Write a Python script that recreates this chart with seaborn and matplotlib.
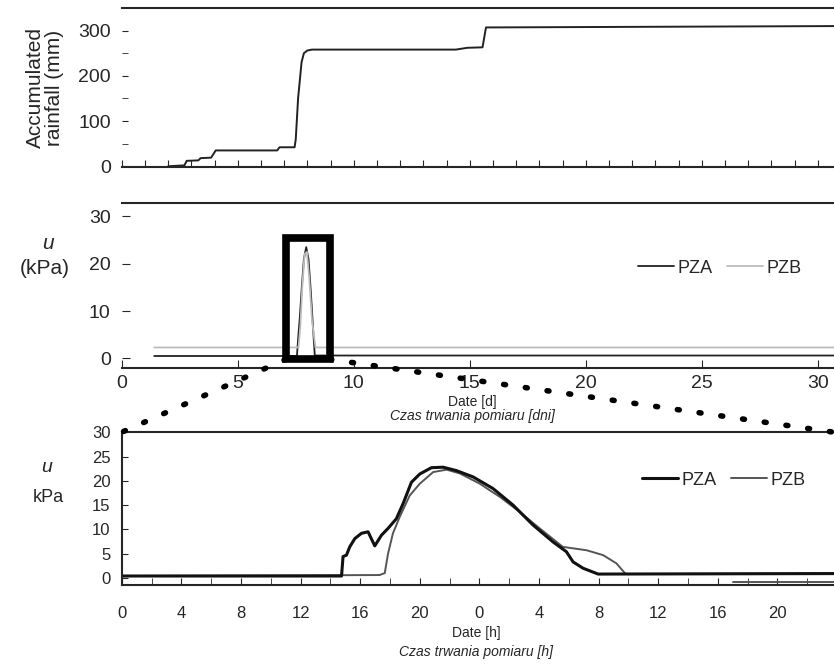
import pandas as pd
import matplotlib
matplotlib.use("Agg")
import matplotlib.pyplot as plt
import matplotlib.ticker as ticker
import seaborn as sns
from matplotlib.patches import Rectangle, ConnectionPatch

# opad skumulowany (dni, mm)
rain_day = [2.0, 2.7, 2.8, 3.3, 3.4, 3.85, 4.05, 6.7, 6.8, 7.45, 7.5, 7.6, 7.75, 7.85, 8.0, 8.2,
            14.4, 14.9, 15.55, 15.7, 30.7]
rain_mm = [0, 2, 12, 13, 18, 19, 35, 35, 42, 42, 60, 150, 230, 250, 256, 258,
           258, 262, 263, 307, 310]

# cisnienie porowe - caly okres (dni, kPa)
pza_day = [1.4, 7.55, 7.6, 7.68, 7.76, 7.85, 7.95, 8.05, 8.15, 8.25, 8.32, 30.7]
pza_kpa = [0.5, 0.5, 4.0, 9.0, 15.0, 21.0, 23.5, 21.0, 14.0, 6.0, 0.6, 0.6]
pzb_day = [1.4, 7.62, 7.7, 7.78, 7.88, 7.98, 8.08, 8.2, 8.35, 30.7]
pzb_kpa = [2.3, 2.3, 7.0, 15.0, 22.0, 22.5, 17.0, 8.0, 2.3, 2.3]

# cisnienie porowe - zblizenie (godziny od poczatku, kPa)
pza_h = [0, 14.75, 14.85, 15.08, 15.3, 15.64, 16.09, 16.53, 16.98, 17.43, 17.87, 18.43, 18.88,
         19.44, 20.0, 20.78, 21.57, 22.46, 23.58, 24.92, 26.26, 27.6, 28.95, 29.84, 30.29,
         30.96, 31.97, 47.8]
pza_u = [0.4, 0.4, 4.4, 4.7, 6.4, 8.1, 9.2, 9.5, 6.6, 8.8, 10.2, 12.2, 15.3,
         19.7, 21.4, 22.7, 22.8, 22.1, 20.8, 18.4, 15.0, 10.9, 7.4, 5.4, 3.3,
         2.0, 0.8, 0.9]
pzb_h = [0, 17.3, 17.65, 17.87, 18.2, 18.66, 19.33, 20.0, 20.9, 21.8, 22.7, 24.03, 25.37,
         26.7, 28.05, 29.6, 31.2, 32.3, 33.2, 33.76, 33.9, 47.8]
pzb_u = [0.4, 0.6, 1.0, 5.0, 9.2, 12.6, 17.0, 19.4, 21.8, 22.3, 21.5, 19.4, 16.7,
         13.6, 10.2, 6.4, 5.7, 4.7, 3.0, 1.0, 0.8, 0.9]
pzb_low_h = [41.0, 47.8]
pzb_low_u = [-0.8, -0.8]

hour_ticks = list(range(0, 48, 4))
hour_labels = [str(h % 24) for h in hour_ticks]

sns.set_style("ticks")
plt.rcParams["font.family"] = ["Liberation Sans Narrow", "Liberation Sans", "DejaVu Sans"]
plt.rcParams["axes.linewidth"] = 1.5

rain = pd.DataFrame({"day": rain_day, "mm": rain_mm})
full = pd.concat([
    pd.DataFrame({"day": pza_day, "u": pza_kpa, "czujnik": "PZA"}),
    pd.DataFrame({"day": pzb_day, "u": pzb_kpa, "czujnik": "PZB"}),
])
zoom = pd.concat([
    pd.DataFrame({"h": pza_h, "u": pza_u, "czujnik": "PZA", "seg": 0}),
    pd.DataFrame({"h": pzb_h, "u": pzb_u, "czujnik": "PZB", "seg": 1}),
    pd.DataFrame({"h": pzb_low_h, "u": pzb_low_u, "czujnik": "PZB", "seg": 2}),
])

fig = plt.figure(figsize=(8.34, 6.66), dpi=100)
ax1 = fig.add_axes([0.146, 0.749, 0.854, 0.239])
ax2 = fig.add_axes([0.146, 0.447, 0.854, 0.248])
ax3 = fig.add_axes([0.146, 0.122, 0.854, 0.229])

# --- opad
sns.lineplot(data=rain, x="day", y="mm", ax=ax1, color="#222222", lw=1.4,
             estimator=None, sort=False)
ax1.set_xlim(0, 30.7)
ax1.set_ylim(-2, 350)
ax1.set_yticks([0, 100, 200, 300])
ax1.yaxis.set_minor_locator(ticker.MultipleLocator(50))
ax1.xaxis.set_major_locator(ticker.MultipleLocator(1))
ax1.tick_params(axis="x", direction="in", length=5, labelbottom=False)
ax1.tick_params(axis="y", which="both", direction="in", length=4, labelsize=14, pad=8)
for s in ["left", "right"]:
    ax1.spines[s].set_visible(False)
ax1.set_xlabel("")
ax1.set_ylabel("")
fig.text(45 / 834, 1 - 88 / 666, "Accumulated\nrainfall (mm)", rotation=90,
         ha="center", va="center", fontsize=15, linespacing=0.95)

# --- cisnienie, caly okres
sns.lineplot(data=full, x="day", y="u", hue="czujnik", ax=ax2,
             palette={"PZA": "#222222", "PZB": "#bdbdbd"}, lw=1.3,
             estimator=None, sort=False)
ax2.set_xlim(0, 30.7)
ax2.set_ylim(-2.1, 32.8)
ax2.set_yticks([0, 10, 20, 30])
ax2.set_xticks(range(0, 31, 5))
ax2.tick_params(axis="both", direction="in", length=6, labelsize=14)
ax2.tick_params(axis="x", pad=5)
ax2.tick_params(axis="y", pad=8)
for s in ["left", "right"]:
    ax2.spines[s].set_visible(False)
ax2.set_xlabel("")
ax2.set_ylabel("")
ax2.legend(loc="center", bbox_to_anchor=(0.84, 0.606), frameon=False, ncol=2,
           fontsize=13, handlelength=2.0, handletextpad=0.2, columnspacing=0.8)
box = Rectangle((7.07, -0.2), 1.9, 25.6, fill=False, lw=5.5, ec="black", clip_on=False, zorder=5)
ax2.add_patch(box)
fig.text(472 / 834, 1 - 402 / 666, "Date [d]", ha="center", va="center", fontsize=10)
fig.text(472 / 834, 1 - 416 / 666, "Czas trwania pomiaru [dni]", ha="center", va="center",
         fontsize=10, style="italic")
fig.text(48 / 834, 1 - 243 / 666, "u", ha="center", va="center", fontsize=15, style="italic")
fig.text(45 / 834, 1 - 268 / 666, "(kPa)", ha="center", va="center", fontsize=15)

# --- cisnienie, zblizenie
sns.lineplot(data=zoom[zoom["czujnik"] == "PZB"], x="h", y="u", units="seg", ax=ax3,
             color="#555555", lw=1.4, estimator=None, sort=False, label="PZB")
sns.lineplot(data=zoom[zoom["czujnik"] == "PZA"], x="h", y="u", ax=ax3,
             color="#111111", lw=2.2, estimator=None, sort=False, label="PZA")
ax3.set_xlim(0, 47.8)
ax3.set_ylim(-1.4, 29.9)
ax3.set_yticks(range(0, 31, 5))
ax3.set_xticks(hour_ticks)
ax3.set_xticklabels(hour_labels)
ax3.xaxis.set_minor_locator(ticker.MultipleLocator(2))
ax3.tick_params(axis="x", which="both", direction="in", length=5, labelsize=12, pad=15)
ax3.tick_params(axis="y", direction="in", length=4, labelsize=12, pad=8)
ax3.spines["right"].set_visible(False)
ax3.set_xlabel("")
ax3.set_ylabel("")
h, l = ax3.get_legend_handles_labels()
order = [l.index("PZA"), l.index("PZB")]
ax3.legend([h[i] for i in order], [l[i] for i in order], loc="center",
           bbox_to_anchor=(0.845, 0.686), frameon=False, ncol=2, fontsize=13,
           handlelength=2.0, handletextpad=0.2, columnspacing=0.8)
fig.text(476 / 834, 1 - 633 / 666, "Date [h]", ha="center", va="center", fontsize=10)
fig.text(476 / 834, 1 - 652 / 666, "Czas trwania pomiaru [h]", ha="center", va="center",
         fontsize=10, style="italic")
fig.text(47 / 834, 1 - 467 / 666, "u", ha="center", va="center", fontsize=14, style="italic")
fig.text(48 / 834, 1 - 497 / 666, "kPa", ha="center", va="center", fontsize=13)

# linie kropkowane laczace ramke z zblizeniem
for xa, xb in [(7.07, 0.0), (8.97, 1.0)]:
    con = ConnectionPatch(xyA=(xa, -0.2), coordsA=ax2.transData,
                          xyB=(xb, 1.0), coordsB=ax3.transAxes,
                          lw=4, ls=(0, (0.35, 3.6)), color="black", zorder=6)
    fig.add_artist(con)

fig.savefig("out.png", dpi=100)
